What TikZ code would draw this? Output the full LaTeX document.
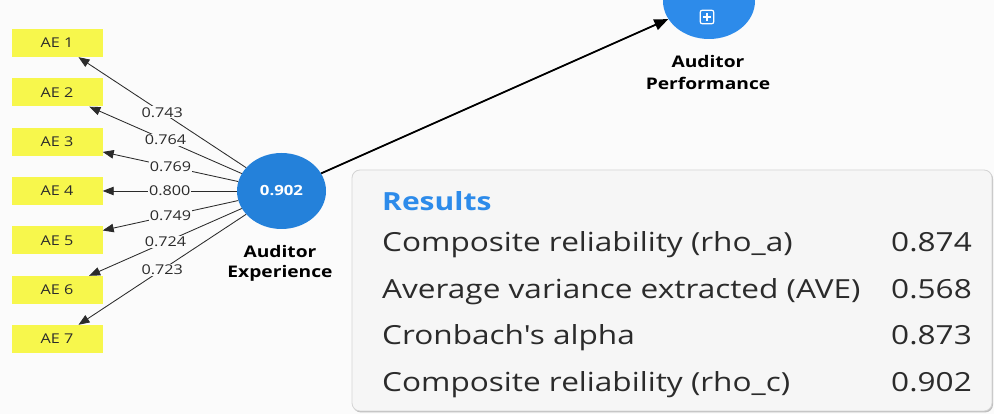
\documentclass[tikz,border=0pt]{standalone}
\usepackage{fontspec}
\setmainfont{Open Sans}
\newfontfamily\osf[FakeStretch=1.2]{Open Sans}
\usetikzlibrary{shapes.geometric,arrows.meta}
\definecolor{bg}{HTML}{FBFBFB}
\definecolor{ylw}{HTML}{F7F74C}
\definecolor{lvblue}{HTML}{2481DA}
\definecolor{resblue}{HTML}{2D8BEA}
\definecolor{panelfill}{HTML}{F6F6F6}
\definecolor{panelline}{HTML}{D4D4D4}
\definecolor{txt}{HTML}{2B2B2B}
\begin{document}
\begin{tikzpicture}[x=1pt,y=1pt,
  indbox/.style={rectangle, fill=ylw, minimum width=91pt, minimum height=28pt, inner sep=0pt,
    font=\osf\fontsize{13.5}{15}\selectfont, text=txt},
  latent/.style={ellipse, fill=lvblue, minimum width=89pt, minimum height=76pt, inner sep=0pt,
    font=\osf\bfseries\fontsize{14}{16}\selectfont, text=white},
  perfnode/.style={ellipse, fill=resblue, minimum width=92pt, minimum height=76pt, inner sep=0pt},
  lvname/.style={anchor=base, inner sep=0pt, font=\osf\bfseries\fontsize{16}{18}\selectfont, text=black},
  load/.style={draw=txt, line width=0.85pt, -{Triangle[length=11pt,width=8.5pt]}},
  lbl/.style={fill=bg, inner sep=1pt, font=\osf\fontsize{13.5}{15}\selectfont, text=txt},
  rowtxt/.style={inner sep=0pt, font=\osf\fontsize{26.3}{29}\selectfont, text=txt},
]
\useasboundingbox (0,0) rectangle (994,414);
\clip (0,0) rectangle (994,414);
\fill[bg] (0,0) rectangle (994,414);

% indicators
\node[indbox] (b1) at (57,371) {AE 1};
\node[indbox] (b2) at (57,321.5) {AE 2};
\node[indbox] (b3) at (57,272) {AE 3};
\node[indbox] (b4) at (57,223) {AE 4};
\node[indbox] (b5) at (57,173.5) {AE 5};
\node[indbox] (b6) at (57,124) {AE 6};
\node[indbox] (b7) at (57,75) {AE 7};

% latent variables
\node[latent] (ae) at (281.5,223) {0.902};
\node[lvname] (aen1) at (280,156) {Auditor};
\node[lvname] (aen2) at (280,136) {Experience};

\node[perfnode] (perf) at (709,413) {};
\node[draw=white, line width=1.2pt, rounded corners=2pt, minimum size=13.5pt, inner sep=0pt] (icon) at (707,397) {};
\draw[white, line width=1.2pt] ([xshift=-4pt]icon.center) -- ([xshift=4pt]icon.center);
\draw[white, line width=1.2pt] ([yshift=-4pt]icon.center) -- ([yshift=4pt]icon.center);
\node[lvname] (pn1) at (708,346) {Auditor};
\node[lvname] (pn2) at (708,324) {Performance};

% loadings
\draw[load] (ae) -- (b1) node[lbl, pos=0.5] {0.743};
\draw[load] (ae) -- (b2) node[lbl, pos=0.5] {0.764};
\draw[load] (ae) -- (b3) node[lbl, pos=0.5] {0.769};
\draw[load] (ae) -- (b4) node[lbl, pos=0.5] {0.800};
\draw[load] (ae) -- (b5) node[lbl, pos=0.5] {0.749};
\draw[load] (ae) -- (b6) node[lbl, pos=0.5] {0.724};
\draw[load] (ae) -- (b7) node[lbl, pos=0.5] {0.723};

% path
\draw[black, line width=1.8pt, -{Triangle[length=14pt,width=11pt]}] (ae) -- (perf);

% results panel
\fill[black!25, rounded corners=8pt] (353,1.5) rectangle (993,243);
\node[draw=panelline, fill=panelfill, rounded corners=8pt, line width=0.8pt,
      minimum width=640pt, minimum height=241pt, inner sep=0pt] (panel) at (672,123.5) {};
\node[anchor=base west, inner sep=0pt, font=\osf\bfseries\fontsize{25}{28}\selectfont, text=resblue] (res) at (382,203) {Results};
\node[rowtxt, anchor=base west] (r1) at (382,162) {Composite reliability (rho\_a)};
\node[rowtxt, anchor=base west] (r2) at (382,115) {Average variance extracted (AVE)};
\node[rowtxt, anchor=base west] (r3) at (382,69) {Cronbach's alpha};
\node[rowtxt, anchor=base west] (r4) at (382,22) {Composite reliability (rho\_c)};
\node[rowtxt, anchor=base east] (v1) at (972,162) {0.874};
\node[rowtxt, anchor=base east] (v2) at (972,115) {0.568};
\node[rowtxt, anchor=base east] (v3) at (972,69) {0.873};
\node[rowtxt, anchor=base east] (v4) at (972,22) {0.902};
\end{tikzpicture}
\end{document}
